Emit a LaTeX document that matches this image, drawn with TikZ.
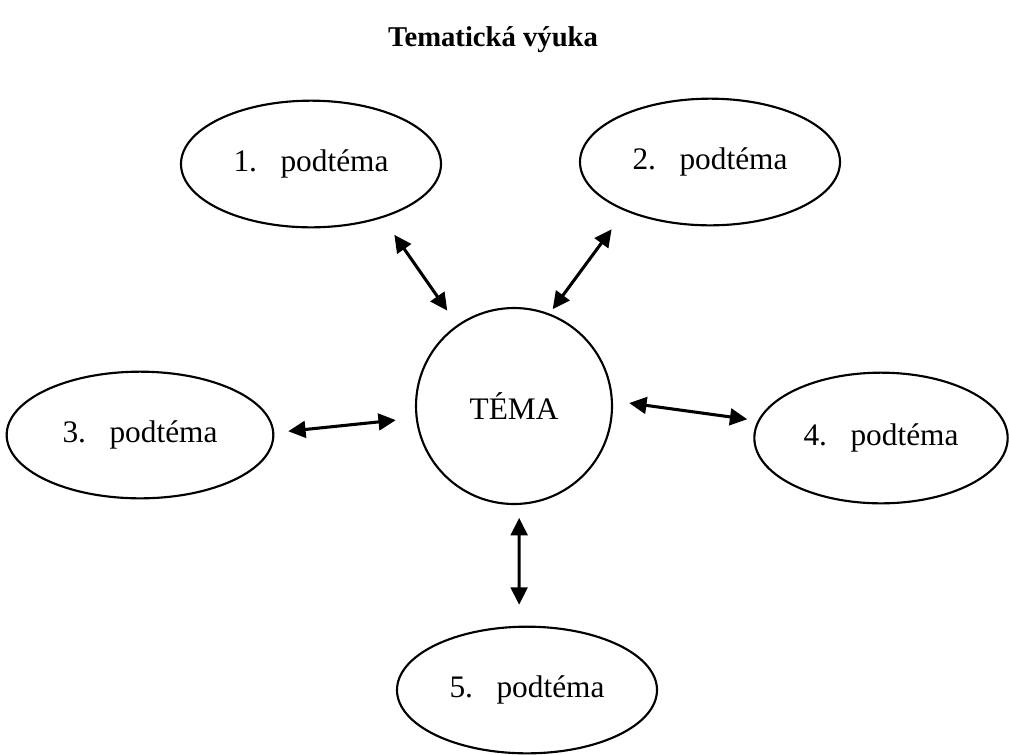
\documentclass[tikz,border=0pt]{standalone}
\usepackage{fontspec}
\setmainfont{Liberation Serif}
\usetikzlibrary{shapes.geometric,arrows.meta}

\tikzset{
  theme/.style={draw, ellipse, line width=1.6pt, inner sep=0pt,
    minimum width=195pt, minimum height=95pt,
    font=\fontsize{23.5}{28}\selectfont},
  link/.style={line width=2.3pt,
    {Triangle[length=13pt,width=12.5pt]}-{Triangle[length=13pt,width=12.5pt]}}
}

\begin{document}
\begin{tikzpicture}[x=0.75pt, y=-0.75pt]
    \useasboundingbox (0,0) rectangle (1009,754);

    \node (title) at (493,40) {\fontsize{21.5}{26}\selectfont\bfseries Tematická výuka};

    \node (tema) [draw, circle, line width=1.6pt, minimum size=147pt,
      font=\fontsize{23.5}{28}\selectfont] at (514,406) {TÉMA};
    \node (p1) [theme] at (311,164) {1.\hspace{0.75em}podtéma};
    \node (p2) [theme] at (710,162) {2.\hspace{0.75em}podtéma};
    \node (p3) [theme, minimum width=200pt] at (140,435) {3.\hspace{0.75em}podtéma};
    \node (p4) [theme, minimum width=190pt, minimum height=98pt] at (881,438) {4.\hspace{0.75em}podtéma};
    \node (p5) [theme] at (527,690) {5.\hspace{0.75em}podtéma};

    \path[link]
      (tema.125.6) edge[shorten <=13pt, shorten >=15.4pt] (p1.-37.1)
      (tema.69.3)  edge[shorten <=4pt, shorten >=17pt] (p2.210)
      (tema.187.7) edge[shorten <=15pt, shorten >=10.5pt] (p3.1.2)
      (tema.3.3)   edge[shorten <=12.3pt, shorten >=7.9pt] (p4.172.9)
      (tema.-87.1) edge[shorten <=9.75pt, shorten >=15.75pt] (p5.97.2);
  \end{tikzpicture}
\end{document}
